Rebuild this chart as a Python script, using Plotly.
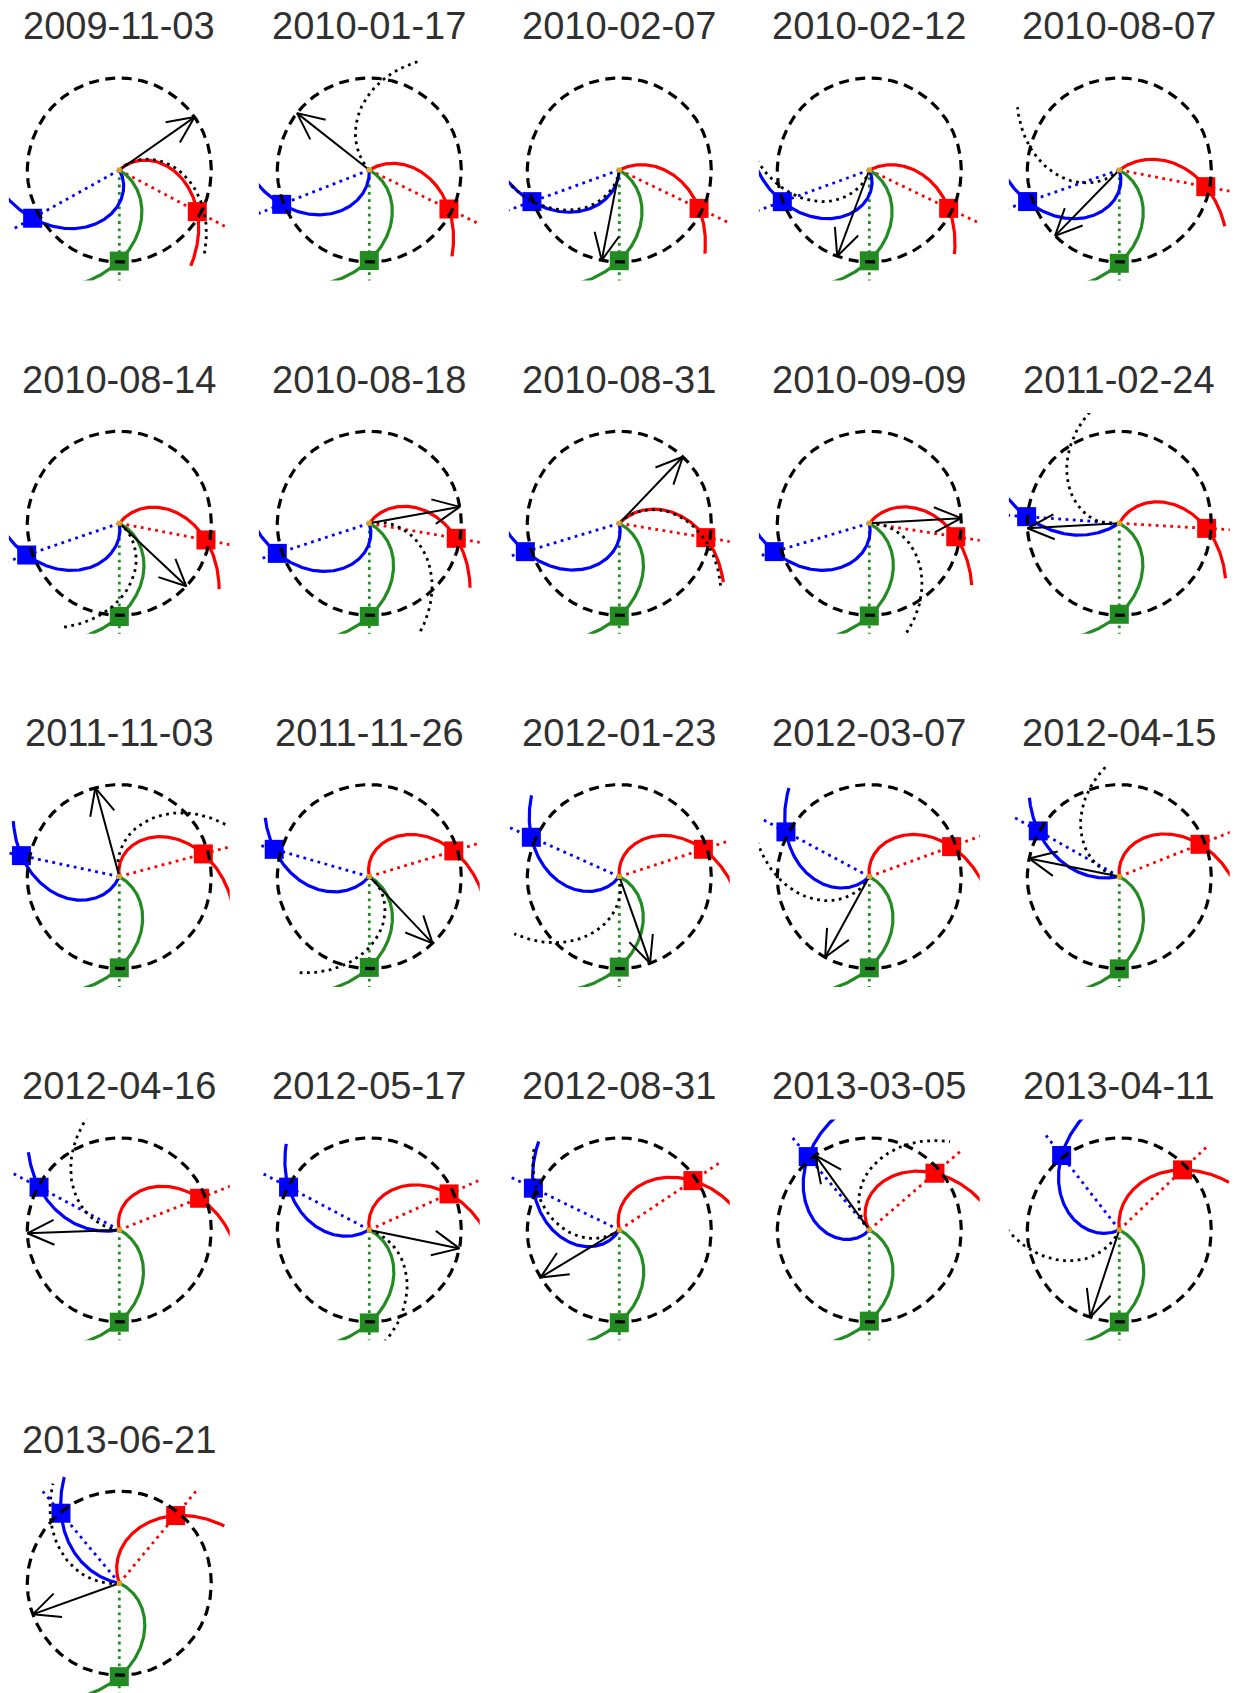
import numpy as np
import plotly.graph_objects as go

# ---------------- data (HEE longitudes in degrees, distances in AU, speeds in km/s) -------------
dates = ["2009-11-03", "2010-01-17", "2010-02-07", "2010-02-12", "2010-08-07",
         "2010-08-14", "2010-08-18", "2010-08-31", "2010-09-09", "2011-02-24",
         "2011-11-03", "2011-11-26", "2012-01-23", "2012-03-07", "2012-04-15",
         "2012-04-16", "2012-05-17", "2012-08-31", "2013-03-05", "2013-04-11",
         "2013-06-21"]

sta_lon = [61.9, 63.9, 64.3, 64.2, 79.1, 79.1, 80.2, 80.6, 81.2, 86.7,
           105.1, 106.9, 108.0, 110.0, 111.8, 111.5, 114.3, 123.8, 130.8, 133.5, 140.2]
sta_r = [0.961, 0.964, 0.962, 0.958, 0.957, 0.959, 0.959, 0.953, 0.951, 0.951,
         0.946, 0.960, 0.961, 0.952, 0.945, 0.938, 0.951, 0.963, 0.943, 0.948, 0.957]
sta_v = [330, 409, 446, 446, 491, 372, 367, 423, 384, 356,
         273, 273, 299, 299, 307, 279, 307, 336, 292, 431, 390]

stb_lon = [-60.9, -68.6, -70.1, -70.0, -71.0, -71.1, -71.9, -73.2, -73.4, -94.1,
           -102.1, -106.0, -114.1, -118.2, -119.4, -118.0, -117.9, -115.9, -140.2, -142.2, -140.2]
stb_r = [1.078, 1.023, 1.010, 1.006, 1.054, 1.064, 1.052, 1.067, 1.078, 1.010,
         1.088, 1.075, 1.047, 1.028, 1.011, 0.988, 0.993, 1.038, 1.037, 1.023, 0.990]
stb_v = [289, 351, 361, 258, 289, 319, 286, 303, 307, 664,
         336, 409, 332, 341, 599, 614, 416, 296, 258, 323, 614]

earth_r = [0.990, 0.984, 0.986, 0.987, 1.014, 1.013, 1.012, 1.009, 1.007, 0.989,
           0.992, 0.987, 0.984, 0.992, 1.003, 1.003, 1.011, 1.009, 0.992, 1.002, 1.016]
earth_v = [409, 396, 403, 403, 403, 390, 396, 396, 396, 390,
           396, 396, 378, 390, 390, 390, 390, 390, 390, 384, 378]

cme_lon = [125.1, -128.2, -11.0, -20.4, -44.3, 46.8, 100.3, 136.3, 93.2, -86.9,
           -164.9, 43.5, 19.5, -28.7, -101.4, -87.9, 78.4, -58.9, -144.1, -18.4, -70.2]

src_lon = [133.4, -137.0, -8.0, -17.0, -46.2, 52.4, 102.0, 136.0, 91.5, -80.0,
           -164.7, 53.0, 14.0, -27.0, -101.4, -96.1, 73.0, -53.0, -138.0, -23.0, -84.0]
src_v = [362, 472, 396, 386, 423, 390, 416, 409, 425, 361,
         399, 356, 423, 390, 413, 459, 463, 390, 378, 446, 512]

# ---------------- constants / styles -------------
OMEGA_AU = 428.6     # solar rotation rate times 1 AU (km/s per rad)
R_MAX = 1.3
CME_LEN = 1.0
W, H = 1235, 1693
S = 92.0             # px per AU
HALF = 1.2
C_A, C_B, C_E = "#ff0000", "#0000ff", "#228b22"
SUN_C = "#daa520"
DOT = "2.8px,4.5px"

r_grid = np.linspace(0.0, R_MAX, 300)


def pol(r, th_deg):
    t = np.radians(th_deg)
    return r * np.cos(t), r * np.sin(t)


def sc_spiral(lon, r_sc, v):
    th_sc = lon - 90.0
    k = np.degrees(OMEGA_AU / v)
    th = th_sc + k * (r_sc - r_grid)
    return pol(r_grid, th)


def foot_spiral(lon, v):
    k = np.degrees(OMEGA_AU / v)
    th = (lon - 90.0) - k * r_grid
    return pol(r_grid, th)


fig = go.Figure()
layout = dict(width=W, height=H, margin=dict(l=0, r=0, t=0, b=0),
              paper_bgcolor="white", plot_bgcolor="white", showlegend=False,
              annotations=[])

circ_t = np.linspace(0, 360, 361)
cx, cy = pol(1.0, circ_t)

for i, d in enumerate(dates):
    col, row = i % 5, i // 5
    sx = 119.3 + 250.0 * col
    sy = 170.0 + 353.3 * row
    x0p, x1p = sx - HALF * S, sx + HALF * S
    y0p, y1p = sy - HALF * S, min(sy + HALF * S, H)
    xd = [max(x0p / W, 0), min(x1p / W, 1)]
    yd = [1 - y1p / H, 1 - y0p / H]
    xr = [-(sx - x0p) / S, (x1p - sx) / S]
    yr = [-(y1p - sy) / S, (sy - y0p) / S]
    sfx = "" if i == 0 else str(i + 1)
    layout["xaxis" + sfx] = dict(domain=xd, range=xr, visible=False, fixedrange=True,
                                 anchor="y" + sfx)
    layout["yaxis" + sfx] = dict(domain=yd, range=yr, visible=False, fixedrange=True,
                                 anchor="x" + sfx)
    xa, ya = "x" + sfx, "y" + sfx

    def add(x, y, **kw):
        fig.add_trace(go.Scatter(x=x, y=y, xaxis=xa, yaxis=ya, hoverinfo="skip", **kw))

    bodies = [(stb_lon[i], stb_r[i], stb_v[i], C_B),
              (sta_lon[i], sta_r[i], sta_v[i], C_A),
              (0.0, earth_r[i], earth_v[i], C_E)]
    # radial dotted lines
    for lon, r, v, c in bodies:
        ex, ey = pol(R_MAX, lon - 90.0)
        add([0, ex], [0, ey], mode="lines", line=dict(color=c, width=2.8, dash=DOT))
    # Parker spirals
    for lon, r, v, c in bodies:
        x, y = sc_spiral(lon, r, v)
        add(x, y, mode="lines", line=dict(color=c, width=3.2))
    # spacecraft / Earth markers
    for lon, r, v, c in bodies:
        px_, py_ = pol(r, lon - 90.0)
        add([px_], [py_], mode="markers", cliponaxis=False,
            marker=dict(symbol="square", size=19, color=c, line=dict(width=0)))
    # 1 AU circle
    add(cx, cy, mode="lines", line=dict(color="black", width=3.2, dash="10px,6.5px"))
    # source-region spiral
    x, y = foot_spiral(src_lon[i], src_v[i])
    add(x, y, mode="lines", line=dict(color="black", width=2.8, dash=DOT))
    # CME direction arrow
    th = cme_lon[i] - 90.0
    tx, ty = pol(CME_LEN, th)
    h1x, h1y = pol(0.32, th + 180 - 25)
    h2x, h2y = pol(0.32, th + 180 + 25)
    add([0, tx, None, tx + h1x, tx, tx + h2x], [0, ty, None, ty + h1y, ty, ty + h2y],
        mode="lines", line=dict(color="black", width=2))
    # Sun
    add([0], [0], mode="markers", marker=dict(symbol="square", size=5, color=SUN_C))

    layout["annotations"].append(dict(
        text=d, x=sx / W, y=1 - (sy - 143.7) / H, xref="paper", yref="paper",
        xanchor="center", yanchor="middle", showarrow=False,
        font=dict(family="Liberation Sans, Arial, sans-serif", size=38, color="#303030")))

fig.update_layout(**layout)
fig.write_html("out.html")
